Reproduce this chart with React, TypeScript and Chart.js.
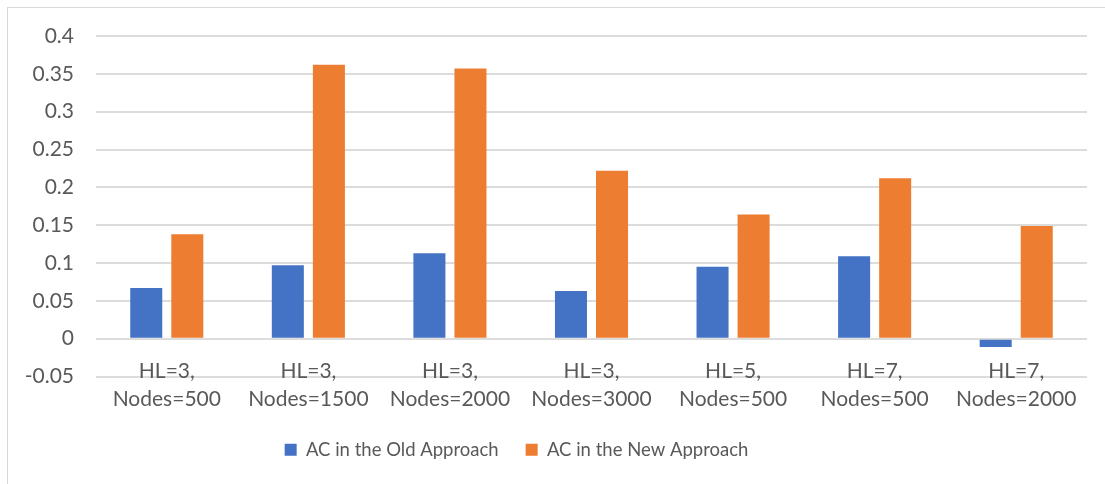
import React, { useEffect, useRef } from "react";
import { Chart, registerables } from "chart.js";

Chart.register(...registerables);

const hlLabels = ["HL=3,", "HL=3,", "HL=3,", "HL=3,", "HL=5,", "HL=7,", "HL=7,"];
const nodeLabels = ["Nodes=500", "Nodes=1500", "Nodes=2000", "Nodes=3000", "Nodes=500", "Nodes=500", "Nodes=2000"];
const oldApproach = [0.067, 0.097, 0.113, 0.063, 0.095, 0.109, -0.011];
const newApproach = [0.138, 0.362, 0.357, 0.222, 0.164, 0.212, 0.149];
const seriesNames = ["AC in the Old Approach", "AC in the New Approach"];
const yMin = -0.05;
const yMax = 0.4;
const yStep = 0.05;

const FONT = "Lato, sans-serif";
const TEXT = "#595959";

const legendShift = {
  id: "legendShift",
  afterLayout(chart: any) {
    const lg = chart.legend;
    if (lg) {
      lg.left -= 31;
      lg.right -= 31;
    }
  },
};

export default function App() {
  const ref = useRef<HTMLCanvasElement | null>(null);
  useEffect(() => {
    if (!ref.current) return;
    const chart = new Chart(ref.current, {
      type: "bar",
      data: {
        labels: hlLabels.map((h, i) => [h, nodeLabels[i]]),
        datasets: [
          { label: seriesNames[0], data: oldApproach, backgroundColor: "#4472C4", categoryPercentage: 0.58, barPercentage: 0.78 },
          { label: seriesNames[1], data: newApproach, backgroundColor: "#ED7D31", categoryPercentage: 0.58, barPercentage: 0.78 },
        ],
      },
      plugins: [legendShift],
      options: {
        animation: false,
        responsive: true,
        maintainAspectRatio: false,
        layout: { padding: { top: 28, right: 18, bottom: 15, left: 0 } },
        plugins: {
          tooltip: { enabled: false },
          legend: {
            position: "bottom",
            title: { display: true, text: " ", padding: { top: 0, bottom: 4 }, font: { size: 27.5 } },
            labels: {
              color: TEXT,
              font: { family: FONT, size: 18.5 },
              boxWidth: 12,
              boxHeight: 12,
              padding: 27,
            },
          },
        },
        scales: {
          x: {
            position: { y: 0 },
            grid: { display: false, drawTicks: false },
            border: { display: false },
            ticks: {
              color: TEXT,
              font: { family: FONT, size: 21, lineHeight: 1.33 },
              padding: 19,
              maxRotation: 0,
              autoSkip: false,
            },
          },
          y: {
            min: yMin,
            max: yMax,
            afterFit: (s: any) => {
              s.width = 88;
              s.paddingTop = 12;
              s.paddingBottom = 12;
            },
            grid: { color: "#dcdcdc", lineWidth: 2, drawTicks: false },
            border: { display: false },
            ticks: {
              stepSize: yStep,
              color: TEXT,
              padding: 22,
              font: { family: FONT, size: 21 },
              callback: (v: any) => String(Math.round(Number(v) * 100) / 100),
            },
          },
        },
      },
    });
    return () => chart.destroy();
  }, []);
  return (
    <div
      style={{
        position: "absolute",
        left: 7,
        top: 7,
        width: 1098,
        height: 477,
        boxSizing: "border-box",
        borderTop: "1px solid #d9d9d9",
        borderLeft: "1px solid #d9d9d9",
        background: "#fff",
      }}
    >
      <div style={{ position: "relative", width: 1097, height: 476 }}>
        <canvas ref={ref} />
      </div>
    </div>
  );
}
